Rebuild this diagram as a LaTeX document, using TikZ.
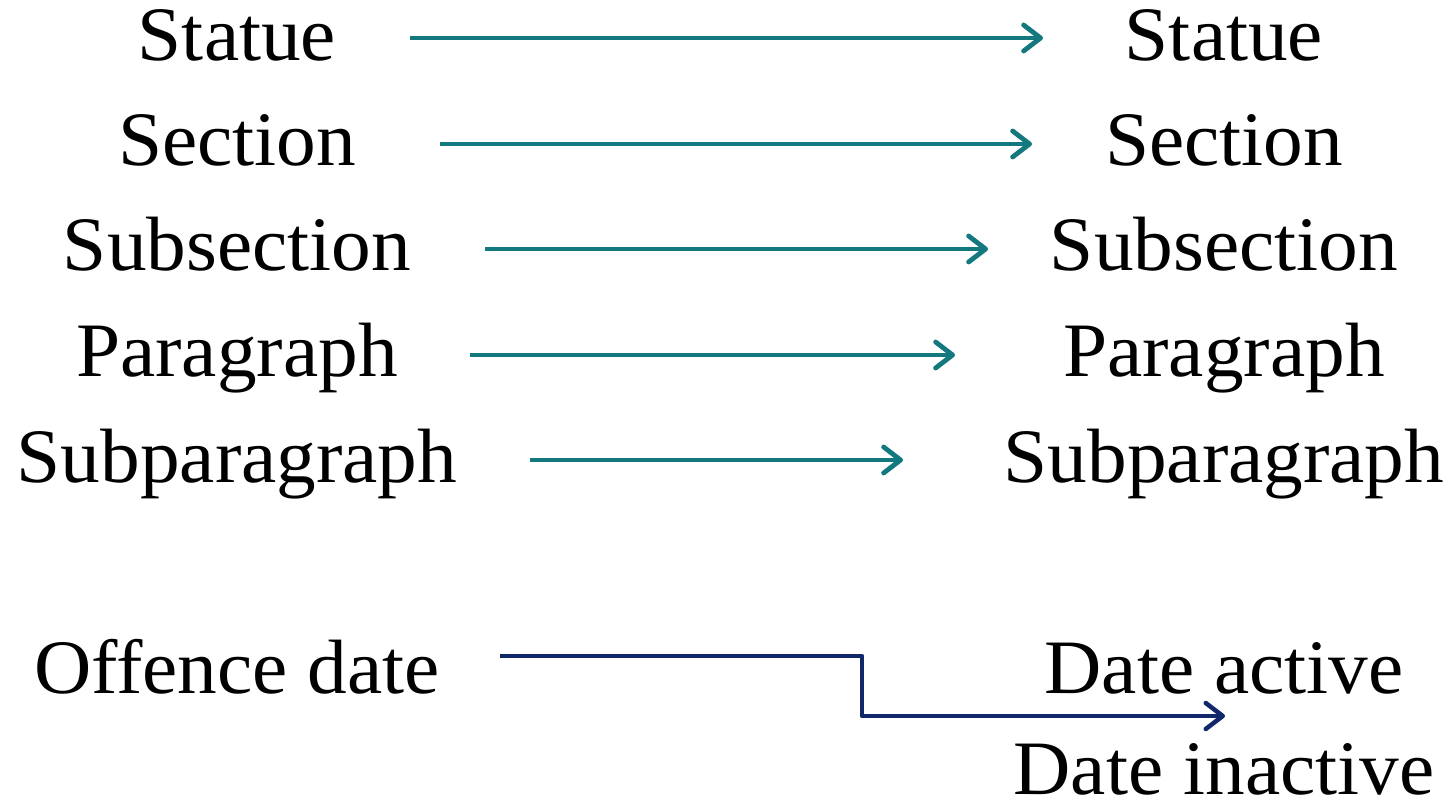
\documentclass[tikz,border=0pt]{standalone}
\usepackage{fontspec}
\setmainfont{Liberation Serif}[FakeStretch=1.03]
\usetikzlibrary{arrows.meta}
\definecolor{tealline}{HTML}{13797F}
\definecolor{navyline}{HTML}{10286A}
\tikzset{
  lbl/.style={inner sep=0pt, anchor=base, font=\fontsize{77}{80}\selectfont},
  tipstyle/.style={-{Straight Barb[length=17pt,width=26pt,line cap=round,line join=round]}},
  tealarrow/.style={draw=tealline, line width=4.8pt, tipstyle},
  navyarrow/.style={draw=navyline, line width=4.5pt, line join=round, tipstyle}
}
\begin{document}
\begin{tikzpicture}[x=1pt,y=-1pt]
\useasboundingbox (0,0) rectangle (1456,802);
% left column
\node[lbl] (l1) at (237,61) {Statue};
\node[lbl] (l2) at (237,166) {Section};
\node[lbl] (l3) at (237,271) {Subsection};
\node[lbl] (l4) at (237,376) {Paragraph};
\node[lbl] (l5) at (237,482) {Subparagraph};
\node[lbl] (l6) at (237,693) {Offence date};
% right column
\node[lbl] (r1) at (1224,61) {Statue};
\node[lbl] (r2) at (1224,166) {Section};
\node[lbl] (r3) at (1224,271) {Subsection};
\node[lbl] (r4) at (1224,376) {Paragraph};
\node[lbl] (r5) at (1224,482) {Subparagraph};
\node[lbl] (r6) at (1224,693) {Date active};
\node[lbl] (r7) at (1224,794) {Date inactive};
% arrow endpoints
\coordinate (a1s) at (410,38);  \coordinate (a1e) at (1043,38);
\coordinate (a2s) at (440,144); \coordinate (a2e) at (1032,144);
\coordinate (a3s) at (485,249); \coordinate (a3e) at (988,249);
\coordinate (a4s) at (470,355); \coordinate (a4e) at (955,355);
\coordinate (a5s) at (530,460); \coordinate (a5e) at (903,460);
\coordinate (bs) at (500,656); \coordinate (bk) at (862,716); \coordinate (be) at (1225,716);
\draw[tealarrow] (a1s) -- (a1e);
\draw[tealarrow] (a2s) -- (a2e);
\draw[tealarrow] (a3s) -- (a3e);
\draw[tealarrow] (a4s) -- (a4e);
\draw[tealarrow] (a5s) -- (a5e);
\draw[navyarrow] (bs) -| (bk) -- (be);
\end{tikzpicture}
\end{document}
